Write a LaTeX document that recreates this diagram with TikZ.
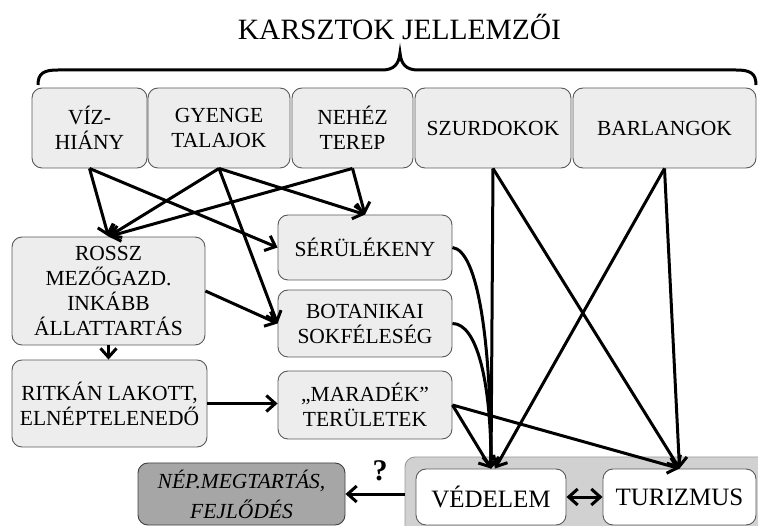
\documentclass[tikz,border=0pt]{standalone}
\usepackage{fontspec}
\setmainfont{Liberation Serif}
\usetikzlibrary{arrows.meta,calc}
\begin{document}
\begin{tikzpicture}[x=1pt,y=-1pt,
  box/.style={draw=black!65, line width=0.9pt, fill=black!7, rounded corners=10pt,
    align=center, inner sep=0pt, font=\fontsize{21.5}{25}\selectfont},
  wbox/.style={box, fill=white, font=\fontsize{25}{29}\selectfont},
  tip/.tip={Straight Barb[length=9pt,width=16pt]},
  arr/.style={line width=3pt, -tip},
]
\useasboundingbox (0,0) rectangle (758,526);

% title and brace
\node[font=\fontsize{29.5}{34}\selectfont, anchor=base, inner sep=0pt] (title) at (399.5,40) {KARSZTOK JELLEMZŐI};
\draw[line width=3pt] (38,85) .. controls (38,73) and (44,70) .. (58,70) -- (382,70)
  .. controls (394,70) and (399,64) .. (400,53) .. controls (401,64) and (406,70) .. (418,70)
  -- (736,70) .. controls (750,70) and (756,73) .. (756,85);

% top row
\node[box, minimum width=115pt, minimum height=80pt] (viz) at (89.5,128) {VÍZ-\\HIÁNY};
\node[box, minimum width=142pt, minimum height=80pt] (gyenge) at (219,128) {GYENGE\\TALAJOK};
\node[box, minimum width=121pt, minimum height=80pt] (nehez) at (352.5,128) {NEHÉZ\\TEREP};
\node[box, minimum width=156pt, minimum height=80pt] (szurd) at (493,128) {SZURDOKOK};
\node[box, minimum width=183pt, minimum height=80pt] (barl) at (664.5,128) {BARLANGOK};

% middle
\node[box, minimum width=193pt, minimum height=108pt] (rossz) at (108.5,291) {ROSSZ\\MEZŐGAZD.\\INKÁBB\\ÁLLATTARTÁS};
\node[box, minimum width=174pt, minimum height=65pt] (serul) at (365,247.5) {SÉRÜLÉKENY};
\node[box, minimum width=174pt, minimum height=67pt] (botan) at (365,323.5) {BOTANIKAI\\SOKFÉLESÉG};
\node[box, minimum width=195pt, minimum height=87pt] (ritkan) at (109.5,403.5) {RITKÁN LAKOTT,\\ELNÉPTELENEDŐ};
\node[box, minimum width=174pt, minimum height=68pt] (marad) at (365,405) {„MARADÉK”\\TERÜLETEK};

% bottom
\node[box, fill=black!35, draw=black!75, minimum width=207pt, minimum height=62pt,
  font=\itshape\fontsize{21.5}{30}\selectfont] (nep) at (241.5,494) {NÉP.MEGTARTÁS,\\FEJLŐDÉS};
\node[box, fill=black!18, draw=black!40, minimum width=365pt, minimum height=83pt] (outer) at (587.5,498.5) {};
\node[wbox, minimum width=150pt, minimum height=56pt] (vedel) at (491,497) {VÉDELEM};
\node[wbox, minimum width=153pt, minimum height=56pt] (turiz) at (679.5,497) {TURIZMUS};
\node[font=\bfseries\fontsize{30}{34}\selectfont, inner sep=0pt] (q) at (380,471) {?};

% connectors
\draw[arr] (viz.south) -- (rossz.north);
\draw[arr] (viz.south) -- (serul.west);
\draw[arr] (gyenge.south) -- (rossz.north);
\draw[arr] (gyenge.south) -- (serul.north);
\draw[arr] (gyenge.south) -- (botan.west);
\draw[arr] (nehez.south) -- (rossz.north);
\draw[arr] (nehez.south) -- (serul.north);
\draw[arr] (rossz.east) -- (botan.west);
\draw[arr] (rossz.south) -- (rossz.south |- ritkan.north);
\draw[arr] (ritkan.east) -- (ritkan.east -| marad.west);
\draw[arr] (serul.east) .. controls +(25,3) and +(0,-130) .. (vedel.north);
\draw[arr] (botan.east) .. controls +(25,0) and +(0,-85) .. (vedel.north);
\draw[arr] (marad.east) -- (vedel.north);
\draw[arr] (marad.east) -- (turiz.north);
\draw[arr] (szurd.south) -- (vedel.north);
\draw[arr] (szurd.south) -- (turiz.north);
\draw[arr] (barl.south) -- ([xshift=4pt]vedel.north);
\draw[arr] (barl.south) -- (turiz.north);
\draw[line width=3pt, tip-tip] (vedel.east) -- (turiz.west);
\draw[arr] (nep.east -| outer.west) -- (nep.east);
\end{tikzpicture}
\end{document}
